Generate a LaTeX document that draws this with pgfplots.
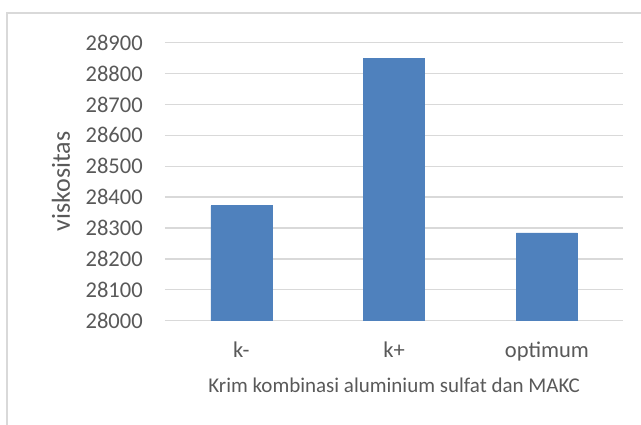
\documentclass[border=0pt]{standalone}
\usepackage{pgfplots}
\pgfplotsset{compat=1.18}
\usepackage{fontspec}
\setmainfont{Carlito}
\definecolor{barblue}{HTML}{4F81BD}
\definecolor{gridgray}{HTML}{D9D9D9}
\definecolor{txtgray}{HTML}{595959}
\begin{document}
\begin{tikzpicture}
\useasboundingbox (-123.75pt,-78.2pt) rectangle (357pt,240.5pt);
\draw[gridgray, line width=0.9pt] (-118.5pt,-80pt) -- (-118.5pt,230.8pt) -- (360pt,230.8pt);
\begin{axis}[
  at={(0,0)}, anchor=south west,
  scale only axis,
  width=343.7pt, height=208.5pt,
  xmin=-0.5, xmax=2.5,
  ymin=28000, ymax=28900,
  ytick={28000,28100,...,28900},
  scaled y ticks=false,
  xtick={0,1,2},
  xticklabels={k-,k+,optimum},
  major tick length=0pt,
  axis line style={draw=none},
  ymajorgrids,
  grid style={gridgray, line width=1pt},
  /pgf/number format/assume math mode=true,
  /pgf/number format/1000 sep={},
  /pgf/number format/fixed,
  ticklabel style={text=txtgray, font=\fontsize{16.9pt}{20pt}\selectfont},
  yticklabel style={anchor=east, inner sep=0pt, xshift=-16.5pt},
  xticklabel style={anchor=base, inner sep=0pt, yshift=-27.75pt},
  xlabel={Krim kombinasi aluminium sulfat dan MAKC},
  ylabel={viskositas},
  x label style={at={(axis description cs:0.5,0)}, anchor=base, inner sep=0pt, yshift=-54.2pt, text=txtgray, font=\fontsize{15.75pt}{18pt}\selectfont},
  y label style={at={(axis description cs:0,0.5)}, anchor=base, inner sep=0pt, yshift=71.25pt, text=txtgray, font=\fontsize{19.5pt}{22pt}\selectfont},
  clip=false,
]
\addplot[ybar, bar width=0.4, fill=barblue, draw=barblue] coordinates {(0,28372) (1,28850) (2,28284)};
\end{axis}
\end{tikzpicture}
\end{document}
